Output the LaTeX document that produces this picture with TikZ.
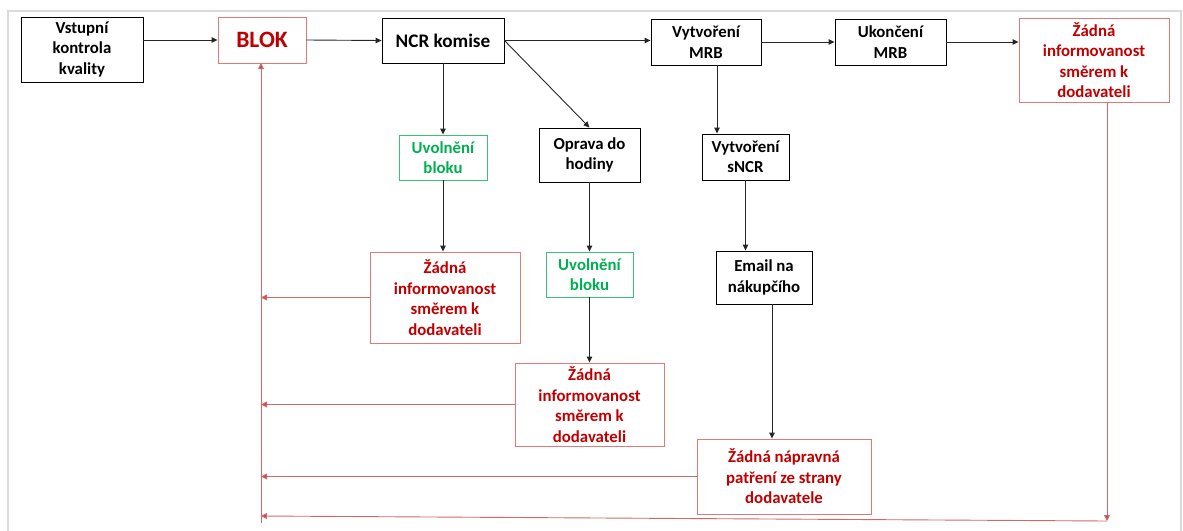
\documentclass[tikz,border=0pt]{standalone}
\usepackage{fontspec}
\setmainfont{Carlito}
\usetikzlibrary{arrows.meta}
\definecolor{boxred}{HTML}{E07A7A}
\definecolor{txtred}{HTML}{C00000}
\definecolor{linered}{HTML}{D06868}
\definecolor{tipred}{HTML}{C0504D}
\definecolor{grn}{HTML}{00B050}
\definecolor{grnline}{HTML}{3CC078}
\definecolor{frame}{HTML}{DADADA}
\tikzset{
  x=1pt, y=-1pt,
  box/.style={draw=black, line width=0.9pt, inner sep=0pt, align=center,
    font=\fontsize{16.8}{20.5}\selectfont\bfseries, text=black},
  redbox/.style={box, draw=boxred, text=txtred},
  greenbox/.style={box, draw=grnline, text=grn},
  flow/.style={draw=black!85, line width=0.9pt, -{Triangle[length=6pt,width=5.5pt]}},
  back/.style={draw=linered, line width=0.9pt, -{Triangle[length=6pt,width=6pt,fill=tipred]}},
}
\begin{document}
\begin{tikzpicture}
\useasboundingbox (0,0) rectangle (1183,530);
% outer frame
\draw[frame, line width=2pt] (8,540) -- (8,11) -- (1181,11) -- (1181,540);

% top row
\node[box, minimum width=122, minimum height=65] (vstup) at (82,49.5) {Vstupní\\kontrola\\kvality};
\node[redbox, minimum width=88, minimum height=46, font=\fontsize{23.5}{26}\selectfont\bfseries] (blok) at (262,40) {BLOK};
\node[box, minimum width=122, minimum height=45, font=\fontsize{19.2}{22}\selectfont\bfseries] (ncr) at (443,40.5) {NCR komise};
\node[box, minimum width=110, minimum height=46] (mrb) at (706,42) {Vytvoření\\MRB};
\node[box, minimum width=111, minimum height=46] (ukon) at (890.5,42) {Ukončení\\MRB};
\node[redbox, minimum width=150, minimum height=84] (zadR) at (1094,60) {Žádná\\informovanost\\směrem k\\dodavateli};

% second row
\node[greenbox, minimum width=88, minimum height=45] (uvol1) at (443,157.5) {Uvolnění\\bloku};
\node[box, minimum width=101, minimum height=54] (oprava) at (589.5,155) {Oprava do\\hodiny};
\node[box, minimum width=87, minimum height=46] (sncr) at (745.5,157) {Vytvoření\\sNCR};

% third row
\node[redbox, minimum width=150, minimum height=91] (zad1) at (445,297.5) {Žádná\\informovanost\\směrem k\\dodavateli};
\node[greenbox, minimum width=87, minimum height=45] (uvol2) at (589.5,274.5) {Uvolnění\\bloku};
\node[box, minimum width=96, minimum height=53] (email) at (764,277.5) {Email na\\nákupčího};

% bottom row
\node[redbox, minimum width=149, minimum height=83] (zad2) at (589.5,404.5) {Žádná\\informovanost\\směrem k\\dodavateli};
\node[redbox, minimum width=174, minimum height=75] (zadN) at (784,476.5) {Žádná nápravná\\patření ze strany\\dodavatele};

% feedback bus back to BLOK
\coordinate (busTop) at (261,63);
\coordinate (busBot) at (261,523);
\coordinate (cornerR) at (1107,521);
\coordinate (busEnd) at (261,516);

% main flow
\draw[flow] (vstup.east |- blok.west) -- (blok.west);
\draw[flow] (blok.east) -- (ncr.west);
\draw[flow] (ncr.east) -- (ncr.east -| mrb.west);
\draw[flow] (mrb.east) -- (ukon.west);
\draw[flow] (ukon.east) -- (zadR.west |- ukon.east);
\draw[flow] (ncr.south) -- (uvol1.north);
\draw[flow] (ncr.east) -- (oprava.north);
\draw[flow] (mrb.south -| 717,0) -- (sncr.north -| 717,0);
\draw[flow] (uvol1.south) -- (zad1.north -| uvol1.south);
\draw[flow] (oprava.south) -- (uvol2.north);
\draw[flow] (uvol2.south) -- (zad2.north);
\draw[flow] (sncr.south) -- (email.north -| sncr.south);
\draw[flow] (email.south -| 772,0) -- (zadN.north -| 772,0);

% red feedback lines
\draw[back] (busBot) -- (busTop);
\draw[back] (zad1.west) -- (zad1.west -| busTop);
\draw[back] (zad2.west) -- (zad2.west -| busTop);
\draw[back] (zadN.west) -- (zadN.west -| busTop);
\draw[back] (zadR.south -| cornerR) -- (cornerR);
\draw[back] (cornerR) -- (busEnd);
\end{tikzpicture}
\end{document}
